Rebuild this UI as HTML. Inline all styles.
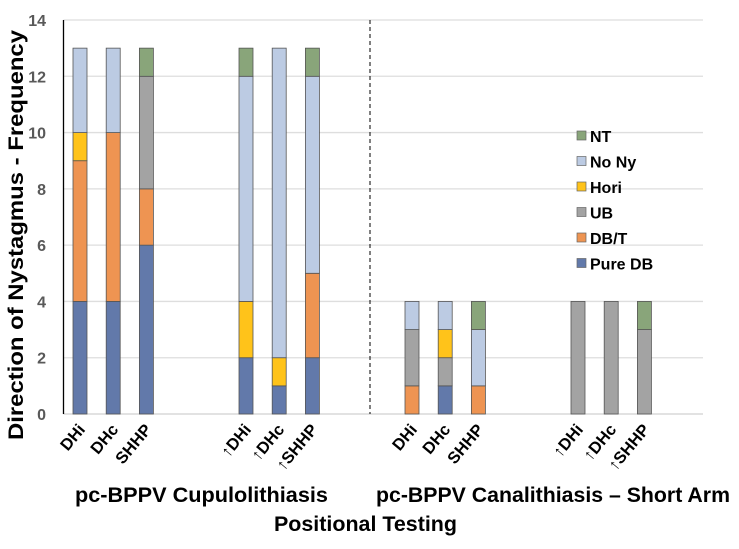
<!DOCTYPE html>
<html><head><meta charset="utf-8"><style>
body{margin:0;background:#fff;}
svg text{font-family:"Liberation Sans",Arial,sans-serif;font-weight:bold;}
</style></head><body>
<svg id="chart" width="739" height="544" viewBox="0 0 739 544" xmlns="http://www.w3.org/2000/svg">
<g id="grid"></g><g id="bars"></g><g id="axes"></g><g id="legend"></g>
</svg>
<script>
const categories = ["DHi","DHc","SHHP","↑DHi","↑DHc","↑SHHP","DHi","DHc","SHHP","↑DHi","↑DHc","↑SHHP"];
const slots = [0,1,2,5,6,7,10,11,12,15,16,17];
const seriesNames = ["Pure DB","DB/T","UB","Hori","No Ny","NT"];
const seriesColors = ["#6279aa","#ee9452","#a3a3a3","#ffc31a","#bccbe3","#89a57a"];
const pureDB = [4,4,6,2,1,2,0,1,0,0,0,0];
const dbT    = [5,6,2,0,0,3,1,0,1,0,0,0];
const ub     = [0,0,4,0,0,0,2,1,0,4,4,3];
const hori   = [1,0,0,2,1,0,0,1,0,0,0,0];
const noNy   = [3,3,0,8,11,7,1,1,2,0,0,0];
const nt     = [0,0,1,1,0,1,0,0,1,0,0,1];
const yTicks = [0,2,4,6,8,10,12,14];
const series = [pureDB,dbT,ub,hori,noNy,nt];
const NS="http://www.w3.org/2000/svg";
const x0=63.5,x1=703,yBase=414,yTop=20,yMax=14;
const y=v=>yBase-(yBase-yTop)*v/yMax;
const xs=s=>80+s*33.2;
function mk(t,a,p){const e=document.createElementNS(NS,t);for(const k in a)e.setAttribute(k,a[k]);p.appendChild(e);return e;}
const grid=document.getElementById('grid'),bars=document.getElementById('bars'),axes=document.getElementById('axes'),legend=document.getElementById('legend');
yTicks.forEach(v=>{
  const l=mk('line',{x1:x0,x2:x1,y1:y(v),y2:y(v),stroke:v===0?'#d0d0d0':'#dedede','stroke-width':1.3},grid);
  
  
  const t=mk('text',{x:46,y:y(v)+6,'text-anchor':'end','font-size':16,fill:'#595959'},axes);
  t.textContent=v;
  
  
});
categories.forEach((c,i)=>{
  let acc=0;const cx=xs(slots[i]);
  series.forEach((s,j)=>{
    const v=s[i];if(!v)return;
    const r=mk('rect',{x:cx-7,y:y(acc+v),width:14,height:y(acc)-y(acc+v),fill:seriesColors[j],stroke:'#555','stroke-width':0.8},bars);
    
    
    acc+=v;
  });
  const t=mk('text',{x:0,y:0,'font-size':16.5,fill:'#000',transform:`translate(${cx+6},${yBase+16}) rotate(-50)`,'text-anchor':'end'},axes);
  t.textContent=c;
  
  
});
const ax=mk('line',{x1:x0,x2:x0,y1:yTop,y2:yBase,stroke:'#000','stroke-width':1.3},axes);


const dl=mk('line',{x1:370,x2:370,y1:yTop,y2:yBase,stroke:'#000','stroke-width':1,'stroke-dasharray':'4,3'},axes);


[[75,502,253,'pc-BPPV Cupulolithiasis','group-label-cupulolithiasis'],[376,502,354,'pc-BPPV Canalithiasis – Short Arm','group-label-canalithiasis'],[274,531,183,'Positional Testing','x-axis-title']].forEach(d=>{
  const t=mk('text',{x:d[0],y:d[1],textLength:d[2],lengthAdjust:'spacingAndGlyphs','font-size':21,fill:'#000'},axes);
  t.textContent=d[3];
  
  
});
const yt=mk('text',{x:0,y:0,transform:'translate(23,440) rotate(-90)',textLength:410,lengthAdjust:'spacingAndGlyphs','font-size':21,fill:'#000'},axes);
yt.textContent='Direction of Nystagmus - Frequency';


for(let j=seriesNames.length-1;j>=0;j--){
  const k=seriesNames.length-1-j;const ly=136+k*25.5;
  const g=mk('g',{},legend);
  
  
  mk('rect',{x:577,y:ly-5,width:9,height:9,fill:seriesColors[j],stroke:'#666','stroke-width':0.7},g);
  const t=mk('text',{x:590,y:ly+6,'font-size':16,fill:'#000'},g);
  t.textContent=seriesNames[j];
}
</script>
</body></html>
